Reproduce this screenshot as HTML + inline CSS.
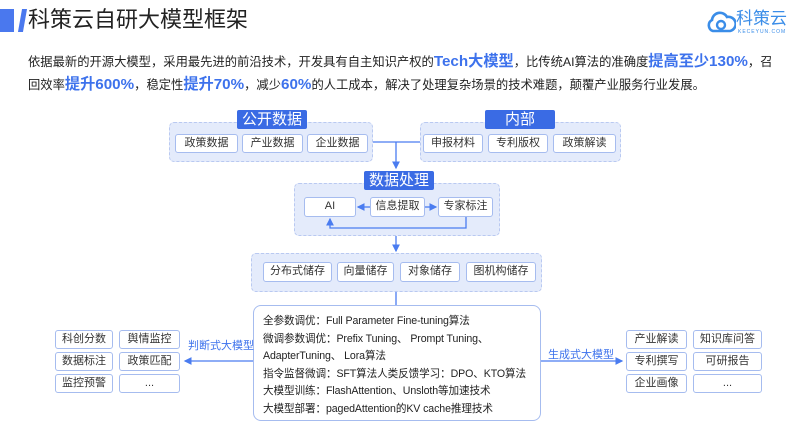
<!DOCTYPE html>
<html><head><meta charset="utf-8"><style>
*{margin:0;padding:0;box-sizing:border-box}
body{width:800px;height:424px;background:#fff;position:relative;overflow:hidden;font-family:"Liberation Sans","Noto Sans CJK SC",sans-serif;color:#222}
.a{position:absolute}
.grp{position:absolute;background:#e4ebfb;border:1px dashed #b9c9f1;border-radius:5px}
.tab{position:absolute;background:#3a6be4;color:#fff;font-size:15px;text-align:center;line-height:19px;border-radius:2px}
.bx{position:absolute;background:#fff;border:1.5px solid #a6bcef;border-radius:3px;font-size:11px;text-align:center;color:#333}
.hl{color:#3d72ec;font-weight:bold;font-size:15.2px}
</style></head><body>
<div class="a" style="left:0;top:9px;width:14px;height:23px;background:#4a78ee"></div>
<div class="a" style="left:20px;top:9px;width:5px;height:23px;background:#4a78ee;transform:skewX(-10deg)"></div>
<div class="a" style="left:28px;top:5px;font-size:22px;line-height:30px;color:#222">科策云自研大模型框架</div>
<svg class="a" style="left:706px;top:10px" width="30" height="24" viewBox="0 0 30 24"><path d="M7 21 A6 6 0 0 1 6 10 A8 8 0 0 1 21 7 A7 7 0 0 1 24 21 Z" fill="none" stroke="#3a8de8" stroke-width="2.6"/><circle cx="15" cy="15" r="4" fill="none" stroke="#3a8de8" stroke-width="2.4"/></svg>
<div class="a" style="left:736px;top:9px;font-size:17px;color:#3a8de8;line-height:20px">科策云</div>
<div class="a" style="left:738px;top:29px;font-size:5px;color:#3a8de8;letter-spacing:1px">KECEYUN.COM</div>
<div class="a" style="left:28px;top:51px;font-size:12.3px;line-height:22.5px;color:#222;white-space:nowrap">依据最新的开源大模型，采用最先进的前沿技术，开发具有自主知识产权的<span class="hl">Tech大模型</span>，比传统AI算法的准确度<span class="hl">提高至少130%</span>，召<br>回效率<span class="hl">提升600%</span>，稳定性<span class="hl">提升70%</span>，减少<span class="hl">60%</span>的人工成本，解决了处理复杂场景的技术难题，颠覆产业服务行业发展。</div>

<div class="grp" style="left:169px;top:122px;width:204px;height:40px"></div>
<div class="tab" style="left:237px;top:110px;width:70px">公开数据</div>
<div class="bx" style="left:175px;top:134px;width:63px;height:19px;line-height:16px">政策数据</div>
<div class="bx" style="left:242px;top:134px;width:61px;height:19px;line-height:16px">产业数据</div>
<div class="bx" style="left:307px;top:134px;width:61px;height:19px;line-height:16px">企业数据</div>
<div class="grp" style="left:420px;top:122px;width:201px;height:40px"></div>
<div class="tab" style="left:485px;top:110px;width:70px">内部</div>
<div class="bx" style="left:423px;top:134px;width:60px;height:19px;line-height:16px">申报材料</div>
<div class="bx" style="left:488px;top:134px;width:60px;height:19px;line-height:16px">专利版权</div>
<div class="bx" style="left:553px;top:134px;width:63px;height:19px;line-height:16px">政策解读</div>

<div class="grp" style="left:294px;top:183px;width:206px;height:53px"></div>
<div class="tab" style="left:364px;top:171px;width:70px">数据处理</div>
<div class="bx" style="left:304px;top:197px;width:52px;height:20px;line-height:17px">AI</div>
<div class="bx" style="left:370px;top:197px;width:55px;height:20px;line-height:17px">信息提取</div>
<div class="bx" style="left:438px;top:197px;width:55px;height:20px;line-height:17px">专家标注</div>

<div class="grp" style="left:251px;top:253px;width:291px;height:39px"></div>
<div class="bx" style="left:263px;top:262px;width:69px;height:20px;line-height:17px">分布式储存</div>
<div class="bx" style="left:337px;top:262px;width:57px;height:20px;line-height:17px">向量储存</div>
<div class="bx" style="left:400px;top:262px;width:60px;height:20px;line-height:17px">对象储存</div>
<div class="bx" style="left:466px;top:262px;width:70px;height:20px;line-height:17px">图机构储存</div>

<div class="a" style="left:253px;top:305px;width:288px;height:116px;border:1.5px solid #a6bcef;border-radius:8px;background:#fff;padding:7px 0 0 9px;font-size:10.6px;line-height:17.5px;color:#222;white-space:nowrap;letter-spacing:-0.1px">全参数调优：Full Parameter Fine-tuning算法<br>微调参数调优：Prefix Tuning、 Prompt Tuning、<br>AdapterTuning、 Lora算法<br>指令监督微调：SFT算法人类反馈学习：DPO、KTO算法<br>大模型训练：FlashAttention、Unsloth等加速技术<br>大模型部署：pagedAttention的KV cache推理技术</div>

<div class="bx" style="left:55px;top:330px;width:58px;height:19px;line-height:16px">科创分数</div>
<div class="bx" style="left:119px;top:330px;width:61px;height:19px;line-height:16px">舆情监控</div>
<div class="bx" style="left:55px;top:352px;width:58px;height:19px;line-height:16px">数据标注</div>
<div class="bx" style="left:119px;top:352px;width:61px;height:19px;line-height:16px">政策匹配</div>
<div class="bx" style="left:55px;top:374px;width:58px;height:19px;line-height:16px">监控预警</div>
<div class="bx" style="left:119px;top:374px;width:61px;height:19px;line-height:16px">...</div>
<div class="bx" style="left:626px;top:330px;width:61px;height:19px;line-height:16px">产业解读</div>
<div class="bx" style="left:693px;top:330px;width:69px;height:19px;line-height:16px">知识库问答</div>
<div class="bx" style="left:626px;top:352px;width:61px;height:19px;line-height:16px">专利撰写</div>
<div class="bx" style="left:693px;top:352px;width:69px;height:19px;line-height:16px">可研报告</div>
<div class="bx" style="left:626px;top:374px;width:61px;height:19px;line-height:16px">企业画像</div>
<div class="bx" style="left:693px;top:374px;width:69px;height:19px;line-height:16px">...</div>
<div class="a" style="left:188px;top:337px;font-size:11px;color:#3d72ec">判断式大模型</div>
<div class="a" style="left:548px;top:346px;font-size:11px;color:#3d72ec">生成式大模型</div>

<svg class="a" style="left:0;top:0" width="800" height="424">
<defs><marker id="m" markerWidth="6" markerHeight="6" refX="5" refY="3" orient="auto"><path d="M0 0L6 3L0 6Z" fill="#4a7cf0"/></marker></defs>
<g stroke="#4a7cf0" stroke-width="1.3" fill="none">
<path d="M373 142H420M396 142V168" marker-end="url(#m)"/>
<path d="M370 207H358" marker-end="url(#m)"/>
<path d="M425 207H436" marker-end="url(#m)"/>
<path d="M466 217V228H330V219" marker-end="url(#m)"/>
<path d="M396 236V251" marker-end="url(#m)"/>
<path d="M396 292V305"/>
<path d="M253 361H185" marker-end="url(#m)"/>
<path d="M541 361H622" marker-end="url(#m)"/>
</g></svg>
</body></html>
